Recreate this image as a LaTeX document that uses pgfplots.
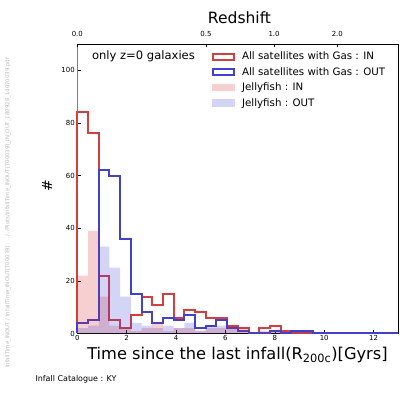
\documentclass[border=0pt]{standalone}
\usepackage{pgfplots}
\pgfplotsset{compat=1.18}
\usepackage{pgfplotstable}
\usepackage{fontspec}
\setmainfont{DejaVu Sans}
\definecolor{lnred}{RGB}{212,62,62}
\definecolor{lnblue}{RGB}{65,65,205}
\definecolor{jfred}{RGB}{214,40,40}
\definecolor{jfblue}{RGB}{60,60,214}

% bin edges (30 bins on 0..13 Gyr); first row closes the outline at x=0
\pgfplotstableread{
x       allin allout jin jout
0       0     0      0   0
0       84    4      22  2
0.4333  76    5      39  3
0.8667  22    62     14  33
1.3     5     60     3   25
1.7333  2     36     2   14
2.1667  7     15     1   4
2.6     14    8      2   3
3.0333  11    4      4   2
3.4667  15    6      1   3
3.9     6     5      2   2
4.3333  9     7      2   4
4.7667  8     2      1   1
5.2     6     3      2   3
5.6333  6     5      2   3
6.0667  3     2      3   2
6.5     2     1      2   1
6.9333  0     0      0   0
7.3667  2     0      1   0
7.8     3     1      1   1
8.2333  1     0      0   0
8.6667  0     1      0   1
9.1     0     1      0   1
9.5333  0     0      0   0
9.9667  0     0      0   0
10.4    0     0      0   0
10.8333 0     0      0   0
11.2667 0     0      0   0
11.7    0     0      0   0
12.1333 0     0      0   0
12.5667 0     0      0   0
13      0     0      0   0
}\histtab

\begin{document}
\begin{tikzpicture}
\path (0,0) rectangle (415bp,399bp);

\begin{axis}[at={(77.3bp,65.5bp)}, anchor=south west, scale only axis,
	width=321bp, height=289.5bp,
	xmin=0, xmax=13, ymin=0, ymax=110,
	xtick={0,2,...,12}, ytick={0,20,...,100},
	xtick pos=bottom, ytick pos=left, tick align=inside,
	major tick length=3.5bp, tick style={black, line width=0.6bp},
	axis line style={black, line width=0.8bp},
	/pgf/number format/assume math mode=true,
	ticklabel style={font=\fontsize{7}{8}\selectfont},
	xticklabel style={yshift=1.5bp}, yticklabel style={xshift=1bp},
	legend style={draw=none, fill=none, at={(0.42,0.98)}, anchor=north west,
		font=\fontsize{10.3}{12}\selectfont, row sep=2.2bp, column sep=5bp, inner sep=0pt},
	legend cell align=left,
	clip=false]
\addplot[const plot, draw=lnred, line width=2bp, forget plot] table[x=x, y=allin] {\histtab};
\addplot[const plot, draw=lnblue, line width=2bp, forget plot] table[x=x, y=allout] {\histtab};
\addplot[const plot, draw=none, fill=jfred, fill opacity=0.22, forget plot] table[x=x, y=jin] {\histtab} \closedcycle;
\addplot[const plot, draw=none, fill=jfblue, fill opacity=0.22, forget plot] table[x=x, y=jout] {\histtab} \closedcycle;
\addlegendimage{legend image code/.code={\path[draw=lnred, fill=none, line width=1.8bp] (0bp,-3bp) rectangle (21bp,3bp);}}
\addlegendentry{All satellites with Gas : IN}
\addlegendimage{legend image code/.code={\path[draw=lnblue, fill=none, line width=1.8bp] (0bp,-3bp) rectangle (21bp,3bp);}}
\addlegendentry{All satellites with Gas : OUT}
\addlegendimage{legend image code/.code={\path[draw=none, fill=jfred, fill opacity=0.22] (-0.9bp,-3.9bp) rectangle (21.9bp,3.9bp);}}
\addlegendentry{Jellyfish : IN}
\addlegendimage{legend image code/.code={\path[draw=none, fill=jfblue, fill opacity=0.22] (-0.9bp,-3.9bp) rectangle (21.9bp,3.9bp);}}
\addlegendentry{Jellyfish : OUT}
\draw[gray, line width=1.2bp] (axis cs:0,84) -- (axis cs:0,110);
\node[anchor=west, font=\fontsize{11.6}{13}\selectfont] at (rel axis cs:0.035,0.958) {only z=0 galaxies};
\end{axis}

\begin{axis}[at={(77.3bp,65.5bp)}, anchor=south west, scale only axis,
	width=321bp, height=289.5bp,
	xmin=0, xmax=13, ymin=0, ymax=110,
	axis x line*=top, hide y axis,
	xtick={0,5.21,7.97,10.53}, xticklabels={0.0,0.5,1.0,2.0},
	tick align=inside, major tick length=3.5bp, tick style={black, line width=0.6bp},
	axis line style={black, line width=0.8bp},
	ticklabel style={font=\fontsize{7}{8}\selectfont},
	xticklabel style={yshift=3.5bp}]
\end{axis}

\node[font=\fontsize{15.6}{17}\selectfont] at (239.5bp,381bp) {Redshift};
\node[font=\fontsize{16.3}{19}\selectfont] at (237.5bp,44bp) {Time since the last infall(R\textsubscript{200c})[Gyrs]};
\node[font=\fontsize{14}{16}\selectfont, rotate=90] at (47bp,213bp) {\#};
\node[anchor=west, font=\fontsize{8}{9}\selectfont] at (32bp,20bp) {Infall Catalogue : KY};
\node[rotate=90, text=gray!55, font=\fontsize{5.4}{6}\selectfont] at (8bp,186bp)
	{InfallTime\_INOUT / InfallTime\_INOUT[T00039] : ../../Plots/InfallTime\_INOUT[T00039]\_IN\_OUT\_180928\_14070039.pdf};
\end{tikzpicture}
\end{document}
